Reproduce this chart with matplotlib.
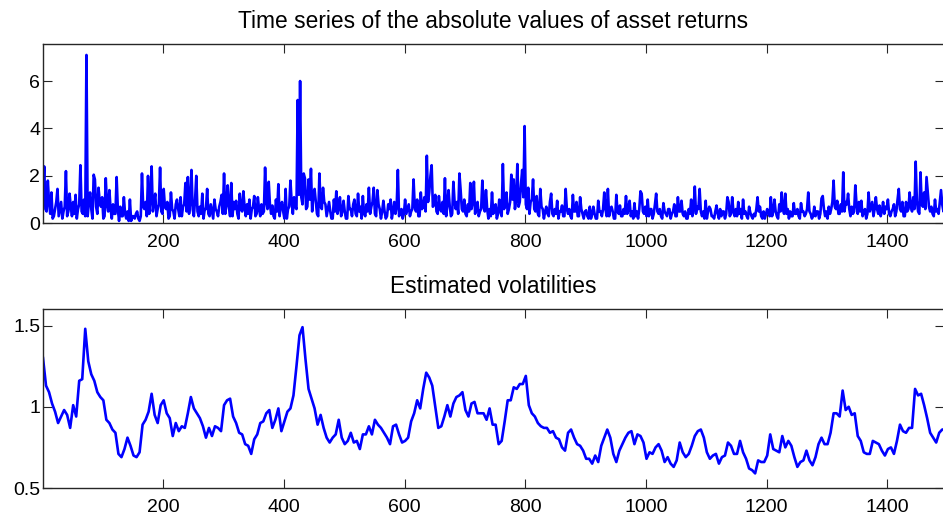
import numpy as np
import matplotlib
matplotlib.use('Agg')
import matplotlib.pyplot as plt

# absolute returns, one value every 2 days starting at day 1
abs_returns = [
    1.2, 2.4, 0.6, 0.5, 1.8, 0.9, 0.4, 1.3, 0.2, 0.3, 0.6, 0.9, 1.45, 0.3, 0.6, 0.9, 0.2, 0.5, 0.7, 2.2, 0.3, 0.5, 1.25, 0.7, 0.3, 0.9, 0.4, 1.2, 0.2, 0.6,
    0.8, 2.45, 0.5, 0.4, 1.0, 0.3, 7.1, 0.3, 0.9, 1.3, 0.6, 0.2, 2.05, 1.85, 0.7, 0.4, 1.5, 0.9, 0.7, 1.1, 0.2, 0.3, 1.9, 0.8, 0.5, 1.4, 0.6, 0.2, 0.8, 0.4,
    0.4, 1.95, 0.6, 0.1, 0.7, 0.3, 0.3, 1.1, 0.4, 0.2, 0.5, 0.1, 1.0, 0.1, 0.3, 0.3, 0.2, 0.4, 0.5, 0.2, 0.1, 0.3, 2.1, 0.7, 0.6, 0.9, 0.3, 2.0, 0.4, 1.0,
    2.4, 0.5, 0.9, 1.25, 0.3, 0.6, 0.8, 2.35, 0.5, 0.4, 1.45, 0.7, 0.6, 0.9, 0.2, 0.3, 1.3, 0.6, 0.5, 0.2, 0.8, 1.0, 0.6, 0.3, 1.1, 0.3, 0.7, 0.8, 1.7, 0.5,
    1.95, 0.4, 0.9, 2.25, 0.6, 0.3, 1.0, 2.0, 0.5, 0.3, 0.7, 0.4, 1.25, 0.2, 0.6, 0.6, 1.45, 0.4, 0.3, 0.8, 0.5, 0.2, 1.0, 0.6, 0.5, 0.3, 0.7, 0.9, 1.2, 0.4,
    2.1, 0.4, 0.8, 1.6, 0.7, 0.3, 1.7, 0.3, 0.9, 0.6, 0.95, 0.4, 0.2, 1.25, 0.6, 0.5, 1.35, 0.7, 0.3, 0.8, 0.4, 1.0, 0.2, 0.6, 0.7, 1.15, 0.3, 0.4, 1.1, 0.6,
    0.3, 0.8, 0.4, 0.5, 2.35, 0.9, 0.6, 1.75, 0.8, 0.4, 0.75, 0.3, 0.2, 1.0, 0.5, 1.65, 0.3, 0.7, 0.9, 0.5, 0.2, 1.45, 0.2, 0.6, 0.7, 1.8, 0.9, 0.4, 1.1, 0.7,
    0.6, 5.2, 1.2, 6.0, 1.1, 0.8, 2.1, 1.9, 0.6, 0.7, 1.85, 1.0, 2.3, 0.5, 1.2, 1.45, 0.9, 0.4, 0.3, 2.1, 0.7, 0.6, 1.5, 0.9, 0.8, 0.3, 0.6, 0.9, 0.5, 0.2,
    0.2, 1.0, 0.5, 1.35, 0.4, 0.7, 1.1, 0.3, 0.5, 0.95, 0.5, 0.2, 0.2, 1.15, 0.6, 0.6, 0.3, 0.8, 1.0, 0.4, 0.3, 1.25, 0.5, 0.7, 0.2, 1.15, 0.4, 0.3, 0.8, 0.5,
    1.5, 0.4, 0.7, 0.9, 1.5, 0.4, 0.3, 1.4, 0.8, 0.6, 0.2, 0.5, 0.95, 0.5, 0.2, 0.3, 0.8, 0.6, 1.0, 0.2, 0.5, 0.9, 0.4, 0.7, 2.25, 0.3, 0.5, 0.6, 0.2, 0.4,
    1.0, 0.4, 0.6, 0.8, 0.3, 0.5, 0.6, 1.85, 0.7, 0.5, 1.0, 0.3, 0.3, 1.3, 0.6, 0.7, 1.1, 0.5, 2.85, 0.9, 1.3, 2.0, 2.45, 0.7, 0.8, 1.2, 0.5, 0.4, 1.15, 0.6,
    0.5, 0.9, 0.4, 1.9, 0.3, 0.8, 1.4, 0.7, 0.3, 0.4, 1.75, 0.9, 0.6, 0.9, 0.4, 2.1, 1.4, 0.6, 0.5, 1.0, 0.4, 0.3, 0.8, 0.5, 1.7, 0.6, 0.9, 1.75, 0.4, 0.7,
    0.9, 0.3, 0.5, 0.6, 1.8, 0.7, 0.5, 1.4, 0.6, 0.2, 0.6, 0.3, 1.3, 0.4, 0.7, 0.8, 0.2, 0.4, 1.0, 0.5, 0.3, 2.5, 0.6, 0.9, 1.3, 0.4, 0.6, 0.9, 2.05, 1.0,
    1.85, 0.6, 1.0, 2.5, 0.7, 0.9, 1.65, 2.25, 1.1, 4.1, 0.8, 0.6, 1.5, 0.4, 0.9, 1.0, 1.85, 0.6, 0.5, 1.15, 0.4, 0.3, 1.45, 0.7, 0.6, 0.2, 0.5, 0.7, 0.4, 0.3,
    0.9, 1.25, 0.4, 0.3, 0.6, 0.4, 0.95, 0.2, 0.5, 0.5, 0.75, 0.3, 0.3, 1.45, 0.6, 0.4, 0.6, 0.3, 0.2, 1.2, 0.5, 0.5, 0.9, 0.3, 0.3, 1.1, 0.6, 0.4, 0.2, 0.5,
    0.55, 0.3, 0.2, 0.7, 0.2, 0.4, 0.7, 0.4, 0.2, 0.2, 0.95, 0.5, 0.5, 0.3, 0.6, 1.3, 0.6, 0.3, 1.45, 0.3, 0.6, 0.7, 0.5, 0.2, 0.2, 1.2, 0.5, 0.4, 0.75, 0.3,
    0.3, 0.6, 0.4, 1.15, 0.4, 0.6, 0.95, 0.3, 0.5, 0.2, 0.85, 0.3, 0.5, 0.2, 0.6, 1.35, 1.25, 0.5, 0.4, 0.7, 0.3, 1.0, 0.3, 0.6, 0.6, 0.2, 0.4, 0.8, 1.25, 0.5,
    0.4, 0.6, 0.3, 0.2, 0.85, 0.5, 0.4, 0.3, 0.6, 0.6, 0.2, 0.4, 0.5, 0.8, 0.3, 0.3, 1.1, 0.5, 0.5, 0.95, 0.4, 0.3, 0.5, 0.2, 0.2, 0.6, 0.4, 1.0, 0.3, 0.6,
    1.55, 0.4, 0.7, 0.6, 1.45, 0.5, 0.3, 0.5, 0.2, 0.95, 0.2, 0.5, 0.7, 0.6, 0.3, 0.3, 0.2, 0.5, 0.75, 0.4, 0.2, 0.6, 0.3, 0.5, 0.5, 0.2, 0.4, 1.1, 0.9, 0.3,
    0.4, 1.1, 0.5, 0.3, 0.6, 0.3, 0.9, 0.4, 0.6, 0.2, 1.0, 0.4, 0.5, 0.3, 0.2, 0.7, 0.45, 0.3, 0.2, 0.4, 0.3, 0.6, 1.1, 0.5, 0.7, 0.3, 0.2, 0.5, 0.2, 0.4,
    0.6, 0.4, 0.3, 1.1, 0.3, 0.5, 1.0, 0.5, 0.3, 0.2, 0.8, 0.5, 1.3, 0.6, 0.4, 1.25, 0.4, 0.6, 0.2, 0.5, 0.3, 0.3, 0.85, 0.4, 0.4, 0.6, 0.3, 0.2, 0.85, 0.5,
    0.5, 0.3, 0.4, 0.6, 1.3, 0.5, 0.4, 0.2, 0.3, 0.7, 0.3, 0.5, 0.5, 0.2, 0.4, 1.05, 1.15, 0.6, 0.3, 0.5, 0.2, 0.7, 0.4, 0.6, 0.9, 1.8, 0.7, 0.6, 0.95, 0.4,
    0.4, 0.8, 0.5, 2.15, 0.5, 0.9, 0.8, 1.25, 0.6, 0.3, 0.7, 0.4, 0.5, 1.6, 0.8, 0.4, 0.9, 0.5, 0.95, 0.3, 0.5, 0.6, 0.2, 0.4, 1.3, 0.5, 0.7, 0.9, 0.3, 0.6,
    1.1, 0.6, 0.4, 0.75, 0.3, 0.5, 0.9, 0.4, 0.7, 0.6, 1.0, 0.4, 0.3, 0.5, 0.6, 0.8, 0.3, 0.5, 1.0, 1.45, 0.6, 0.5, 0.9, 0.3, 0.3, 0.9, 0.5, 0.6, 1.3, 0.7,
    0.5, 1.1, 0.6, 2.6, 0.95, 0.5, 0.4, 2.15, 0.8, 0.7, 1.3, 0.6, 1.95, 1.3, 0.7, 0.5, 0.7, 0.4, 0.3, 1.0, 0.5, 0.6, 0.4, 0.9, 1.4, 0.8, 0.5, 1.1, 0.7,
]
returns_step = 2

# estimated volatility, one value every 5 days starting at day 1
volatility = [
    1.30, 1.13, 1.09, 1.02, 0.97, 0.90, 0.94, 0.98, 0.95, 0.87, 1.01, 0.94, 1.16, 1.17, 1.48, 1.28, 1.20, 1.16, 1.09, 1.06,
    1.04, 0.92, 0.90, 0.86, 0.84, 0.71, 0.69, 0.74, 0.81, 0.76, 0.70, 0.69, 0.72, 0.89, 0.92, 0.97, 1.08, 0.95, 0.90, 1.01,
    1.04, 0.96, 0.93, 0.82, 0.90, 0.85, 0.88, 0.87, 0.96, 1.06, 0.99, 0.96, 0.93, 0.88, 0.81, 0.87, 0.82, 0.88, 0.87, 0.85,
    1.01, 1.04, 1.05, 0.94, 0.90, 0.84, 0.83, 0.77, 0.76, 0.71, 0.80, 0.83, 0.90, 0.91, 0.96, 0.98, 0.87, 0.92, 0.99, 0.85,
    0.91, 0.97, 0.99, 1.07, 1.25, 1.44, 1.49, 1.29, 1.11, 1.05, 0.99, 0.89, 0.95, 0.87, 0.81, 0.78, 0.81, 0.83, 0.92, 0.81,
    0.77, 0.79, 0.84, 0.78, 0.79, 0.74, 0.83, 0.83, 0.88, 0.83, 0.92, 0.89, 0.87, 0.84, 0.81, 0.77, 0.88, 0.89, 0.83, 0.78,
    0.79, 0.81, 0.91, 0.96, 1.04, 0.99, 1.11, 1.21, 1.18, 1.13, 1.00, 0.87, 0.88, 0.94, 1.01, 0.94, 1.02, 1.06, 1.07, 1.09,
    0.98, 0.94, 1.02, 1.03, 0.96, 0.96, 0.96, 0.92, 0.99, 0.89, 0.89, 0.77, 0.79, 0.91, 1.04, 1.04, 1.12, 1.11, 1.14, 1.14,
    1.19, 1.01, 0.96, 0.94, 0.90, 0.88, 0.87, 0.87, 0.84, 0.85, 0.81, 0.80, 0.75, 0.73, 0.84, 0.86, 0.81, 0.77, 0.76, 0.73,
    0.68, 0.68, 0.65, 0.70, 0.66, 0.76, 0.81, 0.86, 0.81, 0.71, 0.66, 0.73, 0.77, 0.81, 0.84, 0.85, 0.77, 0.83, 0.82, 0.78,
    0.68, 0.72, 0.71, 0.75, 0.77, 0.73, 0.66, 0.69, 0.65, 0.63, 0.67, 0.78, 0.72, 0.69, 0.71, 0.76, 0.82, 0.85, 0.86, 0.81,
    0.72, 0.68, 0.70, 0.71, 0.65, 0.69, 0.70, 0.78, 0.76, 0.71, 0.71, 0.79, 0.72, 0.68, 0.62, 0.61, 0.59, 0.67, 0.66, 0.66,
    0.70, 0.83, 0.74, 0.73, 0.72, 0.82, 0.75, 0.79, 0.76, 0.69, 0.63, 0.66, 0.67, 0.73, 0.67, 0.64, 0.69, 0.77, 0.81, 0.77,
    0.77, 0.84, 0.96, 0.96, 0.94, 1.10, 0.98, 1.00, 0.95, 0.96, 0.82, 0.79, 0.72, 0.71, 0.71, 0.79, 0.78, 0.77, 0.73, 0.70,
    0.74, 0.75, 0.71, 0.79, 0.89, 0.85, 0.84, 0.87, 0.87, 1.11, 1.07, 1.08, 1.01, 0.93, 0.84, 0.81, 0.78, 0.84, 0.86, 0.86,
]
vol_step = 5

x_ticks = [200, 400, 600, 800, 1000, 1200, 1400]
n_days = 1494

plt.rcParams['font.family'] = ['Liberation Sans', 'DejaVu Sans']
plt.rcParams['font.size'] = 14

edge = '#262626'


def style_axes(ax):
    for s in ax.spines.values():
        s.set_color(edge)
        s.set_linewidth(1.0)
    ax.tick_params(direction='in', length=6.5, width=0.8, color=edge,
                   top=True, right=True, labelsize=14, labelcolor='black')
    ax.tick_params(axis='x', pad=8)
    ax.tick_params(axis='y', pad=2)
    ax.set_xticks(x_ticks)
    ax.set_xlim(1, n_days)


fig = plt.figure(figsize=(9.43, 5.15), dpi=100)

ax1 = fig.add_axes([0.0456, 0.5664, 0.9555, 0.3476])
t1 = np.arange(len(abs_returns)) * returns_step + 1
ax1.plot(t1, abs_returns, color='#0000ff', linewidth=1.9)
ax1.set_ylim(0, 7.55)
ax1.set_yticks([0, 2, 4, 6])
style_axes(ax1)
ax1.set_title('Time series of the absolute values of asset returns', fontsize=16.4, pad=11.5)

ax2 = fig.add_axes([0.0456, 0.0524, 0.9555, 0.3470])
t2 = np.arange(len(volatility)) * vol_step + 1
ax2.plot(t2, volatility, color='#0000ff', linewidth=1.9)
ax2.set_ylim(0.5, 1.6)
ax2.set_yticks([0.5, 1, 1.5])
ax2.set_yticklabels(['0.5', '1', '1.5'])
style_axes(ax2)
ax2.set_title('Estimated volatilities', fontsize=16.4, pad=11.5)

fig.savefig('out.png', dpi=100)
